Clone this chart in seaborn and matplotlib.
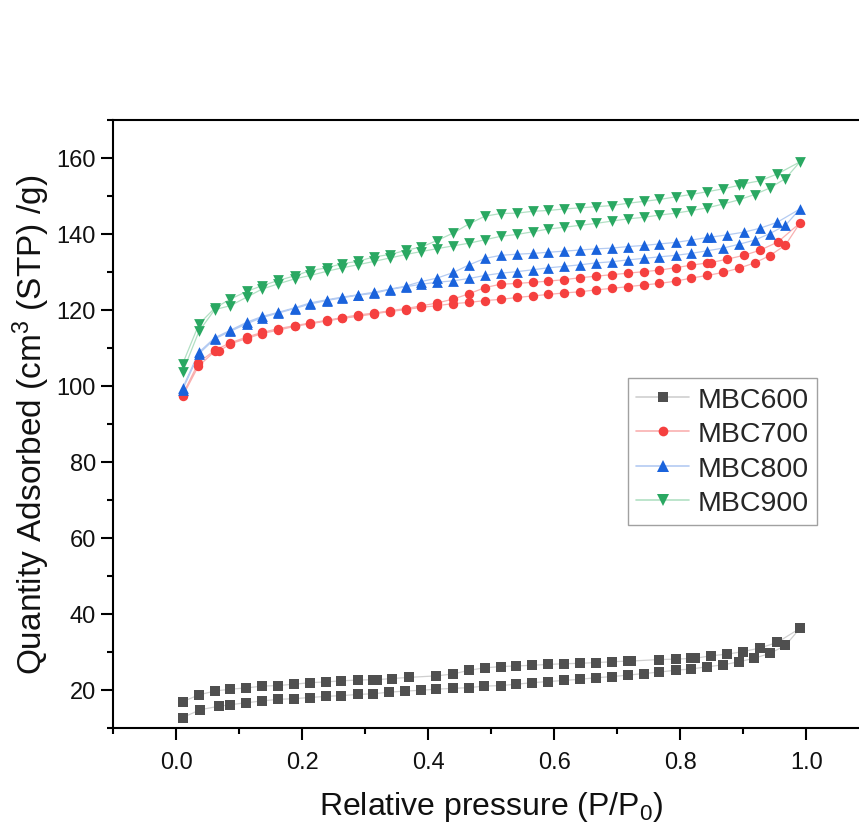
import numpy as np
import pandas as pd
import matplotlib
matplotlib.use("Agg")
import matplotlib.pyplot as plt
import seaborn as sns
from matplotlib.lines import Line2D
from matplotlib.ticker import MultipleLocator

# ---------------- data ----------------
samples = ["MBC600", "MBC700", "MBC800", "MBC900"]

# MBC600
mbc600_ads_x = [0.010, 0.038, 0.068, 0.085, 0.110, 0.136, 0.161, 0.187, 0.212, 0.237,
                0.262, 0.288, 0.313, 0.338, 0.363, 0.388, 0.413, 0.439, 0.464, 0.489,
                0.515, 0.540, 0.565, 0.590, 0.616, 0.641, 0.666, 0.691, 0.717, 0.742,
                0.767, 0.793, 0.817, 0.843, 0.868, 0.893, 0.917, 0.942, 0.967, 0.990]
mbc600_ads_y = [12.6, 14.7, 15.6, 16.0, 16.5, 17.0, 17.4, 17.6, 17.9, 18.2,
                18.4, 18.7, 18.9, 19.3, 19.6, 19.8, 20.1, 20.3, 20.5, 20.9,
                21.05, 21.4, 21.8, 22.1, 22.4, 22.7, 23.1, 23.4, 23.8, 24.2,
                24.6, 25.1, 25.4, 26.0, 26.5, 27.3, 28.2, 29.5, 31.6, 36.1]
mbc600_des_x = [0.954, 0.926, 0.900, 0.874, 0.849, 0.823, 0.817, 0.793, 0.767, 0.722,
                0.717, 0.691, 0.666, 0.641, 0.616, 0.590, 0.565, 0.540, 0.515, 0.490,
                0.465, 0.440, 0.413, 0.369, 0.343, 0.319, 0.313, 0.288, 0.262, 0.237,
                0.212, 0.187, 0.161, 0.136, 0.110, 0.086, 0.061, 0.036, 0.010]
mbc600_des_y = [32.4, 30.9, 30.0, 29.3, 28.9, 28.2, 28.2, 28.0, 27.9, 27.5,
                27.5, 27.3, 27.1, 26.9, 26.8, 26.6, 26.4, 26.2, 26.05, 25.7,
                25.1, 24.1, 23.6, 23.2, 22.9, 22.6, 22.6, 22.5, 22.3, 22.0,
                21.8, 21.4, 21.05, 20.9, 20.4, 20.1, 19.6, 18.6, 16.8]

# MBC700
mbc700_ads_x = [0.010, 0.035, 0.061, 0.067, 0.086, 0.112, 0.136, 0.162, 0.188, 0.213,
                0.239, 0.263, 0.288, 0.314, 0.339, 0.364, 0.389, 0.414, 0.440, 0.465,
                0.490, 0.515, 0.541, 0.566, 0.590, 0.616, 0.641, 0.666, 0.691, 0.717,
                0.742, 0.767, 0.793, 0.817, 0.843, 0.868, 0.893, 0.918, 0.942, 0.967, 0.990]
mbc700_ads_y = [97.2, 105.1, 109.0, 109.0, 111.0, 112.4, 113.7, 114.6, 115.6, 116.3,
                117.0, 117.7, 118.2, 118.9, 119.5, 120.0, 120.6, 121.05, 121.6, 121.9,
                122.4, 122.7, 123.2, 123.6, 124.0, 124.4, 124.7, 125.2, 125.6, 126.05,
                126.5, 126.9, 127.5, 128.3, 129.0, 129.8, 130.9, 132.3, 134.2, 137.0, 142.8]
mbc700_des_x = [0.955, 0.926, 0.901, 0.875, 0.849, 0.843, 0.817, 0.793, 0.767, 0.742,
                0.717, 0.691, 0.666, 0.641, 0.616, 0.590, 0.566, 0.541, 0.515, 0.490,
                0.465, 0.440, 0.414, 0.389, 0.364, 0.339, 0.314, 0.288, 0.263, 0.239,
                0.213, 0.188, 0.162, 0.136, 0.112, 0.086, 0.061, 0.035, 0.010]
mbc700_des_y = [137.8, 135.6, 134.3, 133.3, 132.4, 132.3, 131.7, 131.05, 130.4, 130.0,
                129.6, 129.2, 128.8, 128.4, 127.9, 127.5, 127.2, 126.9, 126.7, 125.8,
                124.2, 122.8, 121.75, 121.0, 120.3, 119.7, 119.1, 118.6, 117.9, 117.2,
                116.5, 115.8, 115.0, 114.0, 112.8, 111.3, 109.3, 106.0, 97.6]

# MBC800
mbc800_ads_x = [0.010, 0.036, 0.061, 0.086, 0.112, 0.136, 0.162, 0.188, 0.213, 0.239,
                0.263, 0.288, 0.314, 0.339, 0.364, 0.389, 0.414, 0.440, 0.465, 0.490,
                0.515, 0.541, 0.566, 0.590, 0.616, 0.641, 0.666, 0.691, 0.717, 0.742,
                0.767, 0.793, 0.817, 0.843, 0.868, 0.893, 0.918, 0.942, 0.967, 0.990]
mbc800_ads_y = [98.9, 108.4, 112.3, 114.3, 116.3, 117.9, 119.1, 120.3, 121.5, 122.4,
                123.1, 123.8, 124.3, 125.3, 126.0, 126.7, 127.2, 127.6, 128.2, 129.0,
                129.6, 130.0, 130.5, 131.0, 131.4, 131.8, 132.3, 132.6, 133.1, 133.5,
                133.9, 134.3, 134.8, 135.5, 136.2, 137.2, 138.3, 140.0, 142.2, 146.5]
mbc800_des_x = [0.954, 0.926, 0.901, 0.875, 0.849, 0.843, 0.817, 0.793, 0.767, 0.742,
                0.717, 0.691, 0.666, 0.641, 0.616, 0.590, 0.566, 0.541, 0.515, 0.490,
                0.465, 0.440, 0.414, 0.389, 0.364, 0.339, 0.314, 0.288, 0.263, 0.239,
                0.213, 0.188, 0.162, 0.136, 0.112, 0.086, 0.061, 0.036, 0.010]
mbc800_des_y = [143.0, 141.4, 140.4, 139.7, 139.1, 139.0, 138.3, 137.7, 137.3, 136.9,
                136.6, 136.2, 136.0, 135.7, 135.4, 135.1, 134.8, 134.6, 134.3, 133.5,
                131.8, 129.8, 128.3, 127.4, 126.2, 125.4, 124.6, 123.9, 123.3, 122.6,
                121.8, 120.5, 119.3, 118.2, 116.7, 114.6, 112.6, 108.8, 99.4]

# MBC900
mbc900_ads_x = [0.010, 0.036, 0.061, 0.086, 0.112, 0.136, 0.162, 0.188, 0.213, 0.239,
                0.263, 0.288, 0.314, 0.339, 0.364, 0.389, 0.414, 0.440, 0.465, 0.490,
                0.515, 0.541, 0.566, 0.590, 0.616, 0.641, 0.666, 0.691, 0.717, 0.742,
                0.767, 0.793, 0.817, 0.843, 0.868, 0.893, 0.918, 0.942, 0.967, 0.990]
mbc900_ads_y = [103.5, 114.3, 120.0, 121.05, 123.3, 125.4, 126.8, 128.1, 129.0, 130.1,
                131.0, 131.8, 132.7, 133.6, 134.5, 135.3, 136.05, 136.8, 137.5, 138.4,
                139.3, 139.8, 140.5, 141.2, 141.7, 142.2, 142.7, 143.3, 143.9, 144.3,
                144.9, 145.4, 146.05, 146.8, 147.8, 148.9, 150.3, 152.0, 154.5, 158.9]
mbc900_des_x = [0.954, 0.926, 0.900, 0.893, 0.868, 0.843, 0.817, 0.793, 0.767, 0.742,
                0.717, 0.691, 0.666, 0.641, 0.616, 0.590, 0.566, 0.541, 0.515, 0.490,
                0.465, 0.440, 0.414, 0.389, 0.364, 0.339, 0.314, 0.288, 0.263, 0.239,
                0.213, 0.188, 0.162, 0.136, 0.112, 0.086, 0.061, 0.036, 0.010]
mbc900_des_y = [155.7, 153.9, 153.1, 152.7, 151.8, 151.05, 150.3, 149.7, 149.0, 148.5,
                148.0, 147.4, 147.1, 146.8, 146.5, 146.1, 145.9, 145.4, 145.3, 144.6,
                142.6, 140.2, 138.2, 136.5, 135.6, 134.5, 133.9, 132.7, 132.1, 131.0,
                130.3, 128.9, 127.7, 126.3, 124.8, 122.8, 120.4, 116.2, 105.7]

x_ticks = [0.0, 0.2, 0.4, 0.6, 0.8, 1.0]
y_ticks = [20, 40, 60, 80, 100, 120, 140, 160]

# ---------------- styling ----------------
marker_colors = {"MBC600": "#4f4f4f", "MBC700": "#f5403f", "MBC800": "#1a63dc", "MBC900": "#2aa862"}
line_colors = {"MBC600": "#cfcfcf", "MBC700": "#f9b0b0", "MBC800": "#b4cbf2", "MBC900": "#b2e0c4"}
markers = {"MBC600": "s", "MBC700": "o", "MBC800": "^", "MBC900": "v"}
msizes = {"MBC600": 42, "MBC700": 46, "MBC800": 60, "MBC900": 60}

sns.set_theme(style="white")
plt.rcParams["font.family"] = ["Liberation Sans", "DejaVu Sans"]
plt.rcParams["mathtext.fontset"] = "custom"
plt.rcParams["mathtext.rm"] = "Liberation Sans"
plt.rcParams["mathtext.it"] = "Liberation Sans:italic"
plt.rcParams["mathtext.default"] = "regular"

# build long table: adsorption followed by desorption (path order)
series = {
    "MBC600": (mbc600_ads_x, mbc600_ads_y, mbc600_des_x, mbc600_des_y),
    "MBC700": (mbc700_ads_x, mbc700_ads_y, mbc700_des_x, mbc700_des_y),
    "MBC800": (mbc800_ads_x, mbc800_ads_y, mbc800_des_x, mbc800_des_y),
    "MBC900": (mbc900_ads_x, mbc900_ads_y, mbc900_des_x, mbc900_des_y),
}
rows = []
for s in samples:
    ax_, ay_, dx_, dy_ = series[s]
    xs = list(ax_) + list(dx_)
    ys = list(ay_) + list(dy_)
    for i, (xv, yv) in enumerate(zip(xs, ys)):
        rows.append({"sample": s, "x": xv, "y": yv, "order": i})
df = pd.DataFrame(rows)

fig = plt.figure(figsize=(8.59, 8.29), dpi=100)
ax = fig.add_axes([0.1319, 0.1212, 0.880, 0.7332])

sns.lineplot(data=df, x="x", y="y", hue="sample", palette=line_colors, sort=False,
             estimator=None, units="sample", linewidth=0.9, legend=False, ax=ax, zorder=1)
for s in samples:
    sub = df[df["sample"] == s]
    sns.scatterplot(data=sub, x="x", y="y", color=marker_colors[s], marker=markers[s],
                    s=msizes[s], linewidth=0, legend=False, ax=ax, zorder=3)

ax.set_xlim(-0.1, 1.1)
ax.set_ylim(10, 170)
ax.set_xticks(x_ticks)
ax.set_xticklabels([f"{v:.1f}" for v in x_ticks])
ax.set_yticks(y_ticks)
ax.set_yticklabels([str(v) for v in y_ticks])
ax.xaxis.set_minor_locator(MultipleLocator(0.1))
ax.yaxis.set_minor_locator(MultipleLocator(10))

for sp in ["left", "top", "bottom"]:
    ax.spines[sp].set_linewidth(1.5)
    ax.spines[sp].set_color("black")
ax.spines["right"].set_visible(False)

ax.tick_params(axis="both", which="major", direction="out", length=8.6, width=1.5,
               labelsize=17, colors="black", labelcolor="#111111")
ax.tick_params(axis="both", which="minor", direction="out", length=4.3, width=1.5, colors="black")
ax.tick_params(axis="x", which="both", bottom=True, top=False, pad=8)
ax.tick_params(axis="y", which="both", left=True, right=False, pad=4)

ax.set_xlabel("Relative pressure (P/P$_0$)", fontsize=23, labelpad=12, color="#111111")
ax.set_ylabel("Quantity Adsorbed (cm$^3$ (STP) /g)", fontsize=24, labelpad=3, color="#111111")

handles = [Line2D([0], [0], color=line_colors[s], linewidth=1.2, marker=markers[s],
                  markersize=8 if markers[s] in ("^", "v") else 7,
                  markerfacecolor=marker_colors[s], markeredgewidth=0) for s in samples]
leg = ax.legend(handles, samples, loc="upper right", bbox_to_anchor=(0.931, 0.575),
                borderaxespad=0, fontsize=20.5, frameon=True, fancybox=False,
                handlelength=1.85, handletextpad=0.3, labelspacing=0.3, borderpad=0.3)
leg.get_frame().set_edgecolor("#8a8a8a")
leg.get_frame().set_linewidth(1.0)

fig.savefig("out.png", dpi=100, facecolor="white")
